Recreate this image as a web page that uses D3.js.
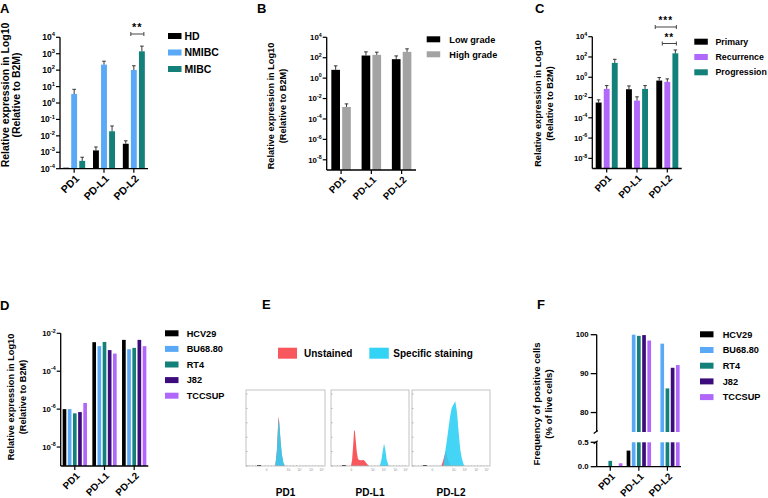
<!DOCTYPE html>
<html>
<head>
<meta charset="utf-8">
<script src="https://cdn.jsdelivr.net/npm/d3@7/dist/d3.min.js"></script>
<style>
body{margin:0;background:#fff}
svg{display:block}
text{font-family:"Liberation Sans",Arial,sans-serif;font-weight:bold;fill:#000}
</style>
</head>
<body>
<svg id="fig" width="768" height="498"></svg>
<script>
const cats = ["PD1", "PD-L1", "PD-L2"];

// A: HD / NMIBC / MIBC (mean, top of error bar)
const aSeries = ["HD", "NMIBC", "MIBC"];
const aColors = ["#000000", "#5aa9f6", "#13807a"];
const aHD = [1.15e-4, 1.3e-3, 3.3e-3];
const aHDTop = [null, 2.1e-3, 5.0e-3];
const aNMIBC = [3.5, 217, 102];
const aNMIBCTop = [6.8, 350, 185];
const aMIBC = [3.0e-4, 0.019, 1400];
const aMIBCTop = [5.0e-4, 0.04, 2900];

// B: grade
const bSeries = ["Low grade", "High grade"];
const bColors = ["#000000", "#a3a3a3"];
const bLow = [6.5, 164, 72];
const bLowTop = [16, 375, 150];
const bHigh = [1.5e-3, 190, 375];
const bHighTop = [3.0e-3, 350, 740];

// C: Primary / Recurrence / Progression
const cSeries = ["Primary", "Recurrence", "Progression"];
const cColors = ["#000000", "#b067fa", "#13807a"];
const cPrimary = [3.2e-3, 0.066, 0.47];
const cPrimaryTop = [5.9e-3, 0.14, 0.93];
const cRecurrence = [0.071, 5.0e-3, 0.35];
const cRecurrenceTop = [0.15, 0.0117, 0.69];
const cProgression = [26, 0.071, 230];
const cProgressionTop = [59, 0.15, 490];

// D and F: cell lines
const lineSeries = ["HCV29", "BU68.80", "RT4", "J82", "TCCSUP"];
const lineColors = ["#000000", "#5aa9f6", "#13807a", "#3d0c7c", "#b067fa"];
const dHCV29 = [1.0e-6, 3.4e-3, 4.5e-3];
const dBU6880 = [1.0e-6, 2.1e-3, 1.45e-3];
const dRT4 = [6.0e-7, 3.5e-3, 1.7e-3];
const dJ82 = [7.0e-7, 1.3e-3, 4.5e-3];
const dTCCSUP = [2.1e-6, 8.5e-4, 2.1e-3];

const fHCV29 = [0.01, 0.33, 0];
const fBU6880 = [0.005, 100, 97.7];
const fRT4 = [0.12, 99.7, 86.2];
const fJ82 = [0.01, 99.9, 91.5];
const fTCCSUP = [0.07, 98.5, 92.2];

// E: flow histograms, [channel, % of max]
const eUnstPD1 = [[37,0],[39,20],[40.5,55],[41,69],[42,62],[43.5,38],[45,18],[47,5],[49,0]];
const eSpecPD1 = [[37,0],[39,19],[40.5,52],[41.2,66],[42.2,58],[43.8,35],[45.5,16],[47.5,4],[49.5,0]];
const eUnstPDL1 = [[25.5,0],[27,8],[28.5,30],[29.5,48],[30.5,50],[31.5,38],[33,20],[34.5,10],[36,8.5],[39,8],[42,8.5],[44,6],[46,3],[48.5,0]];
const eSpecPDL1 = [[62.5,0],[64.5,8],[66.5,22],[68,31],[69.5,24],[71.5,8],[74,0]];
const eUnstPDL2 = [[37.5,0],[39.5,6],[41.5,14],[43,20],[44.5,16],[46.5,8],[49,2],[51,0]];
const eSpecPDL2 = [[40,0],[42.5,19],[45,38],[47,54],[49,70],[51,81],[53.5,86],[55.5,90],[57,80],[58,71],[60,44],[62,22],[64,10],[66,3],[67,0]];

const svg = d3.select("#fig");

function pow10Label(g, x, y, exp, fs) {
  const t = g.append("text").attr("x", x).attr("y", y).attr("text-anchor", "end")
    .attr("dy", "0.35em").style("font-size", fs + "px");
  t.append("tspan").text("10");
  t.append("tspan").attr("dy", -fs * 0.45).style("font-size", (fs * 0.68) + "px").text(exp);
}

function xLabels(g, x, yBot, fs) {
  cats.forEach(c => {
    const cx = x(c) + x.bandwidth() / 2;
    g.append("line").attr("x1", cx).attr("x2", cx).attr("y1", yBot).attr("y2", yBot + 4)
      .attr("stroke", "#000").attr("stroke-width", 1.2);
    g.append("text").attr("transform", `translate(${cx + 3},${yBot + 8}) rotate(-45)`)
      .attr("text-anchor", "end").attr("dy", "0.35em").style("font-size", fs + "px").text(c);
  });
}

function legend(g, series, colors, o) {
  series.forEach((s, i) => {
    const cy = o.y + i * o.dy;
    g.append("rect").attr("x", o.x).attr("y", cy - 3).attr("width", 13.5).attr("height", 6)
      .attr("fill", colors[i]);
    g.append("text").attr("x", o.tx).attr("y", cy).attr("dy", "0.35em")
      .style("font-size", o.fs + "px").text(s);
  });
}

function yTitle(g, x1, x2, yc, fs, l1, l2) {
  [[x1, l1], [x2, l2]].forEach(([x, s]) => {
    g.append("text").attr("transform", `translate(${x},${yc}) rotate(-90)`)
      .attr("text-anchor", "middle").attr("dy", "0.35em").style("font-size", fs + "px").text(s);
  });
}

function letter(x, y, s) {
  svg.append("text").attr("x", x).attr("y", y).style("font-size", "13px").text(s);
}

function bandX(x0, x1) {
  return d3.scaleBand().domain(cats).range([x0, x1]).paddingInner(0.25).paddingOuter(0.1);
}

function logPanel(o) {
  const g = svg.append("g");
  const y = d3.scaleLog().domain([o.lo, o.hi]).range([o.yBot, o.yTop]);
  const x = bandX(o.x0, o.x1);
  const subs = {};
  cats.forEach((c, ci) => {
    const cx = x(c) + x.bandwidth() / 2;
    const sub = d3.scaleBand().domain(o.series).range([cx - o.gw / 2, cx + o.gw / 2]).paddingInner(o.pad);
    subs[c] = sub;
    o.series.forEach((s, si) => {
      const v = o.values[si][ci];
      if (!(v > 0)) return;
      g.append("rect").attr("x", sub(s)).attr("width", sub.bandwidth())
        .attr("y", y(v)).attr("height", o.yBot - y(v)).attr("fill", o.colors[si]);
      const top = o.tops ? o.tops[si][ci] : null;
      if (top) {
        const bx = sub(s) + sub.bandwidth() / 2;
        g.append("line").attr("x1", bx).attr("x2", bx).attr("y1", y(v)).attr("y2", y(top))
          .attr("stroke", "#222").attr("stroke-width", 0.9);
        g.append("line").attr("x1", bx - 1.8).attr("x2", bx + 1.8).attr("y1", y(top)).attr("y2", y(top))
          .attr("stroke", "#222").attr("stroke-width", 0.9);
      }
    });
  });
  // axes
  g.append("line").attr("x1", o.x0).attr("x2", o.x0).attr("y1", o.yTop).attr("y2", o.yBot)
    .attr("stroke", "#000").attr("stroke-width", 1.3);
  g.append("line").attr("x1", o.x0).attr("x2", o.x1).attr("y1", o.yBot).attr("y2", o.yBot)
    .attr("stroke", "#000").attr("stroke-width", 1.3);
  o.tickExps.forEach(e => {
    const ty = y(Math.pow(10, e));
    g.append("line").attr("x1", o.x0 - 4).attr("x2", o.x0).attr("y1", ty).attr("y2", ty)
      .attr("stroke", "#000").attr("stroke-width", 1.2);
    pow10Label(g, o.x0 - 5, ty, e, o.tickFs);
  });
  xLabels(g, x, o.yBot, o.xFs);
  return { g, x, y, subs };
}

function bracket(g, xa, xb, yy, label, fs) {
  g.append("line").attr("x1", xa).attr("x2", xb).attr("y1", yy).attr("y2", yy)
    .attr("stroke", "#444").attr("stroke-width", 1);
  [xa, xb].forEach(xx => g.append("line").attr("x1", xx).attr("x2", xx)
    .attr("y1", yy - 2).attr("y2", yy + 2).attr("stroke", "#444").attr("stroke-width", 1));
  g.append("text").attr("x", (xa + xb) / 2).attr("y", yy - 3).attr("text-anchor", "middle")
    .style("font-size", fs + "px").style("letter-spacing", "1px").text(label);
}

// ---------- A ----------
letter(0, 13, "A");
const A = logPanel({
  x0: 60, x1: 148, yTop: 37.3, yBot: 168.7, lo: 1e-4, hi: 1e4,
  tickExps: d3.range(4, -5, -1), series: aSeries, colors: aColors,
  values: [aHD, aNMIBC, aMIBC], tops: [aHDTop, aNMIBCTop, aMIBCTop],
  gw: 22, pad: 0.27, tickFs: 8.5, xFs: 10.5
});
{
  const s = A.subs["PD-L2"];
  bracket(A.g, s("NMIBC") + s.bandwidth() / 2 - 3, s("MIBC") + s.bandwidth() / 2 + 2, 34, "**", 11);
}
legend(A.g, aSeries, aColors, { x: 168, tx: 184.5, y: 36, dy: 16.5, fs: 10.5 });
yTitle(A.g, 5, 16, 95, 10.5, "Relative expression in Log10", "(Relative to B2M)");

// ---------- B ----------
letter(257, 13, "B");
const B = logPanel({
  x0: 326.7, x1: 416, yTop: 37.3, yBot: 170, lo: 1e-9, hi: 1e4,
  tickExps: [4, 2, 0, -2, -4, -6, -8], series: bSeries, colors: bColors,
  values: [bLow, bHigh], tops: [bLowTop, bHighTop],
  gw: 19.5, pad: 0.2, tickFs: 7.8, xFs: 9.8
});
legend(B.g, bSeries, bColors, { x: 426.7, tx: 449.3, y: 39.3, dy: 15, fs: 9.2 });
yTitle(B.g, 270.5, 282.5, 106, 9.2, "Relative expression in Log10", "(Relative to B2M)");

// ---------- C ----------
letter(535, 13, "C");
const C = logPanel({
  x0: 592.3, x1: 681.7, yTop: 36.7, yBot: 168.5, lo: 1e-9, hi: 1e4,
  tickExps: [4, 2, 0, -2, -4, -6, -8], series: cSeries, colors: cColors,
  values: [cPrimary, cRecurrence, cProgression], tops: [cPrimaryTop, cRecurrenceTop, cProgressionTop],
  gw: 22, pad: 0.27, tickFs: 7.8, xFs: 9.8
});
{
  const s = C.subs["PD-L2"];
  const c0 = s("Primary") + s.bandwidth() / 2, c1 = s("Recurrence") + s.bandwidth() / 2,
        c2 = s("Progression") + s.bandwidth() / 2;
  bracket(C.g, c0 - 4, c2 + 1, 27, "***", 10);
  bracket(C.g, c1 - 5, c2 + 1, 43.5, "**", 10);
}
legend(C.g, cSeries, cColors, { x: 694.3, tx: 715.5, y: 41.7, dy: 15.3, fs: 8.8 });
yTitle(C.g, 537.5, 550, 103.5, 9.2, "Relative expression in Log10", "(Relative to B2M)");

// ---------- D ----------
letter(0, 310, "D");
const D = logPanel({
  x0: 60.7, x1: 148.3, yTop: 333.3, yBot: 466, lo: 1e-9, hi: 1e-2,
  tickExps: [-2, -4, -6, -8], series: lineSeries, colors: lineColors,
  values: [dHCV29, dBU6880, dRT4, dJ82, dTCCSUP], tops: null,
  gw: 24.3, pad: 0.29, tickFs: 7.8, xFs: 9.8
});
legend(D.g, lineSeries, lineColors, { x: 165, tx: 186.7, y: 333.3, dy: 15.6, fs: 9.2 });
yTitle(D.g, 10.3, 22.5, 397, 9.2, "Relative expression in Log10", "(Relative to B2M)");

// ---------- E ----------
letter(262, 309, "E");
{
  const g = svg.append("g");
  g.append("rect").attr("x", 278).attr("y", 347.7).attr("width", 19).attr("height", 11).attr("fill", "#f8585d");
  g.append("text").attr("x", 304).attr("y", 353.5).attr("dy", "0.35em").style("font-size", "10px").text("Unstained");
  g.append("rect").attr("x", 369.3).attr("y", 347.7).attr("width", 19.5).attr("height", 11).attr("fill", "#33d3f6");
  g.append("text").attr("x", 393.3).attr("y", 353.5).attr("dy", "0.35em").style("font-size", "10px").text("Specific staining");

  const boxes = [
    { x0: 246, x1: 325, label: "PD1", unst: eUnstPD1, spec: eSpecPD1 },
    { x0: 331, x1: 409, label: "PD-L1", unst: eUnstPDL1, spec: eSpecPDL1 },
    { x0: 412, x1: 490, label: "PD-L2", unst: eUnstPDL2, spec: eSpecPDL2 }
  ];
  const yTop = 390, yBot = 466;
  const botTicks = [["0", 26], ["10³", 54], ["10⁴", 68], ["10⁵", 83], ["10⁶", 96]];
  boxes.forEach(b => {
    const x = d3.scaleLinear().domain([0, 100]).range([b.x0, b.x1]);
    const y = d3.scaleLinear().domain([0, 100]).range([yBot, yTop + 4]);
    const area = d3.area().x(d => x(d[0])).y0(yBot).y1(d => y(d[1])).curve(d3.curveLinear);
    g.append("path").datum(b.unst).attr("d", area).attr("fill", "#f8585d");
    g.append("path").datum(b.spec).attr("d", area).attr("fill", "#2fcff5").attr("fill-opacity", 0.9);
    g.append("rect").attr("x", b.x0).attr("y", yTop).attr("width", b.x1 - b.x0).attr("height", yBot - yTop)
      .attr("fill", "none").attr("stroke", "#b5b5b5").attr("stroke-width", 0.8);
    d3.range(0, 101, 20).forEach(v => {
      g.append("line").attr("x1", b.x0).attr("x2", b.x0 + 1.5).attr("y1", y(v)).attr("y2", y(v))
        .attr("stroke", "#777").attr("stroke-width", 0.5);
    });
    d3.range(4, 100, 4).forEach(v => {
      g.append("line").attr("x1", x(v)).attr("x2", x(v)).attr("y1", yBot).attr("y2", yBot - 1)
        .attr("stroke", "#999").attr("stroke-width", 0.4);
    });
    botTicks.forEach(([t, v]) => {
      g.append("text").attr("x", x(v)).attr("y", yBot + 4.5).attr("text-anchor", "middle")
        .style("font-size", "3px").style("font-weight", "normal").style("fill", "#888").text(t);
    });
    g.append("line").attr("x1", x(14)).attr("x2", x(19)).attr("y1", yBot - 0.5).attr("y2", yBot - 0.5)
      .attr("stroke", "#555").attr("stroke-width", 1);
    g.append("text").attr("x", (b.x0 + b.x1) / 2).attr("y", 495.5).attr("text-anchor", "middle")
      .style("font-size", "10px").text(b.label);
  });
}

// ---------- F ----------
letter(537, 309, "F");
{
  const g = svg.append("g");
  const x0 = 596.7, x1 = 681, yBot = 466.7;
  const yUp = d3.scaleLinear().domain([75, 100]).range([432, 334.7]);
  const yLow = d3.scaleLinear().domain([0, 0.5]).range([yBot, 442.3]);
  const x = bandX(x0, x1);
  const vals = [fHCV29, fBU6880, fRT4, fJ82, fTCCSUP];
  cats.forEach((c, ci) => {
    const cx = x(c) + x.bandwidth() / 2;
    const sub = d3.scaleBand().domain(lineSeries).range([cx - 12.2, cx + 12.2]).paddingInner(0.29);
    lineSeries.forEach((s, si) => {
      const v = vals[si][ci];
      if (!(v > 0)) return;
      const lowTop = yLow(Math.min(v, 0.5));
      g.append("rect").attr("x", sub(s)).attr("width", sub.bandwidth()).attr("y", lowTop)
        .attr("height", Math.max(yBot - lowTop, 0.6)).attr("fill", lineColors[si]);
      if (v > 0.5) {
        g.append("rect").attr("x", sub(s)).attr("width", sub.bandwidth()).attr("y", yUp(v))
          .attr("height", 432 - yUp(v)).attr("fill", lineColors[si]);
      }
    });
  });
  const ax = (xa, xb, ya, yb) => g.append("line").attr("x1", xa).attr("x2", xb).attr("y1", ya).attr("y2", yb)
    .attr("stroke", "#000").attr("stroke-width", 1.3);
  ax(x0, x0, 334.7, 432);
  ax(x0, x0, 442.3, yBot);
  ax(x0, x1, yBot, yBot);
  ax(x0 - 3, x0 + 1, 433.5, 430.5);
  ax(x0 - 3, x0 + 1, 443.8, 440.8);
  [[yUp, [80, 90, 100], d => d3.format("d")(d)], [yLow, [0, 0.5], d => d3.format(".1f")(d)]].forEach(([sc, tv, fmt]) => {
    tv.forEach(v => {
      ax(x0 - 6, x0, sc(v), sc(v));
      g.append("text").attr("x", x0 - 8).attr("y", sc(v)).attr("dy", "0.35em").attr("text-anchor", "end")
        .style("font-size", "7.8px").text(fmt(v));
    });
  });
  xLabels(g, x, yBot, 9.8);
  legend(g, lineSeries, lineColors, { x: 700, tx: 722.7, y: 334.3, dy: 15.7, fs: 9.2 });
  yTitle(g, 536.7, 549, 404, 9.6, "Frequency of positive cells", "(% of live cells)");
}
</script>
</body>
</html>
